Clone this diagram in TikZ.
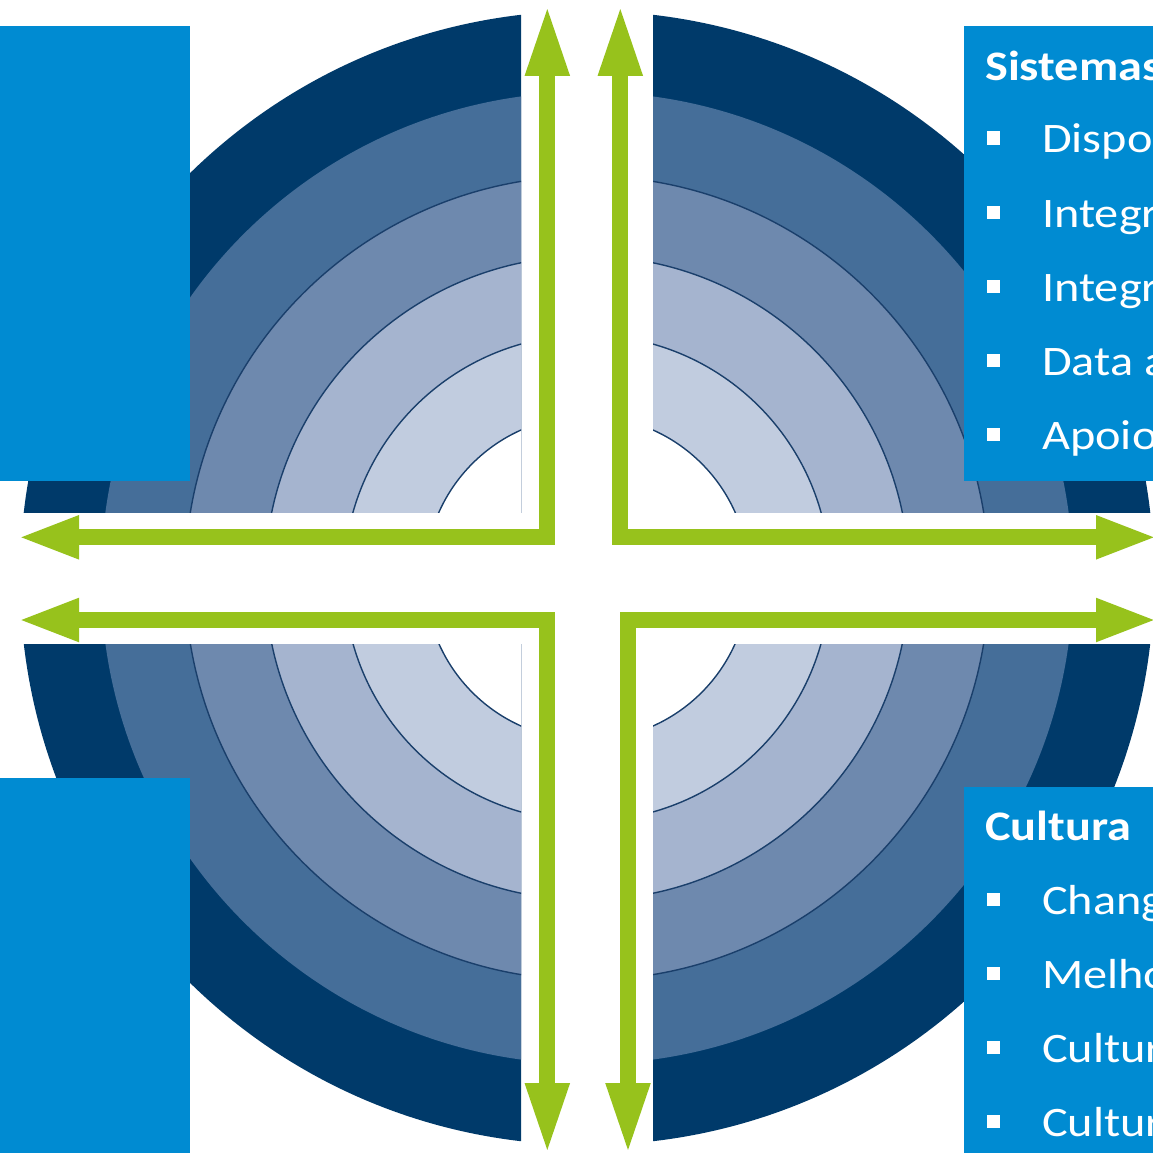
\documentclass[tikz,border=0pt]{standalone}
\usepackage{fontspec}
\setmainfont{Carlito}
\usetikzlibrary{arrows.meta}
\definecolor{ringA}{HTML}{003A6A}
\definecolor{ringB}{HTML}{456E99}
\definecolor{ringC}{HTML}{6E89AE}
\definecolor{ringD}{HTML}{A5B4CF}
\definecolor{ringE}{HTML}{C1CCDF}
\definecolor{ringline}{HTML}{1A3F6B}
\definecolor{arrowgreen}{HTML}{97C21C}
\definecolor{boxblue}{HTML}{008BD2}
\newcommand{\myrings}{%
  \fill[ringA] (587,578) circle[radius=567pt];
  \fill[ringB] (587,578) circle[radius=486pt];
  \fill[ringC] (587,578) circle[radius=402pt];
  \fill[ringD] (587,578) circle[radius=322pt];
  \fill[ringE] (587,578) circle[radius=243pt];
  \fill[white] (587,578) circle[radius=162pt];
  \foreach \r in {402,322,243,162}{\draw[ringline,line width=1.4pt] (587,578) circle[radius=\r pt];}
}
\begin{document}
\begin{tikzpicture}[x=1pt,y=-1pt,
  greenarrow/.style={draw=arrowgreen,line width=16pt,line join=miter},
  hhead/.style={Triangle[length=62pt,width=39pt,line width=0pt]},
  vhead/.style={Triangle[length=72pt,width=40pt,line width=0pt]},
  bluebox/.style={fill=boxblue,draw=none},
  title/.style={anchor=base west,inner sep=0pt,text=white,font=\fontsize{42}{50}\selectfont\bfseries},
  item/.style={anchor=base west,inner sep=0pt,text=white,font=\fontsize{42}{50}\selectfont},
  bullet/.style={fill=white}]
\clip (0,0) rectangle (1153,1153);
\fill[white] (0,0) rectangle (1153,1153);
% quadrants
\begin{scope}\clip (0,0) rectangle (521,512); \myrings \end{scope}
\begin{scope}\clip (653,0) rectangle (1153,512); \myrings \end{scope}
\begin{scope}\clip (0,644) rectangle (521,1153); \myrings \end{scope}
\begin{scope}\clip (653,644) rectangle (1153,1153); \myrings \end{scope}
% arrows
\coordinate (tlL) at (17,537.3); \coordinate (tlC) at (547.3,537.3); \coordinate (tlU) at (547.3,4);
\coordinate (trR) at (1158,537.3); \coordinate (trC) at (620.3,537.3); \coordinate (trU) at (620.3,4);
\coordinate (blL) at (17,620); \coordinate (blC) at (547.3,620); \coordinate (blD) at (547.3,1155);
\coordinate (brR) at (1158,620); \coordinate (brC) at (628,620); \coordinate (brD) at (628,1155);
\draw[greenarrow,{Triangle[length=62pt,width=39pt]}-{Triangle[length=72pt,width=40pt]}] (tlL) -- (tlC) -- (tlU);
\draw[greenarrow,{Triangle[length=62pt,width=39pt]}-{Triangle[length=72pt,width=40pt]}] (trR) -- (trC) -- (trU);
\draw[greenarrow,{Triangle[length=62pt,width=39pt]}-{Triangle[length=72pt,width=40pt]}] (blL) -- (blC) -- (blD);
\draw[greenarrow,{Triangle[length=62pt,width=39pt]}-{Triangle[length=72pt,width=40pt]}] (brR) -- (brC) -- (brD);
% boxes
\fill[bluebox] (0,26) rectangle (190,481);
\fill[bluebox] (0,778) rectangle (190,1153);
\fill[bluebox] (964,26) rectangle (1153,481);
\fill[bluebox] (964,787) rectangle (1153,1153);
% texts top right
\node[title] (sis) at (985,81) {\scalebox{1.15}[1]{Sistemas}};
\foreach \y/\t [count=\i] in {153/Dispo,227.2/Integr,301.4/Integr,375.6/Data a,449.8/Apoio}{
  \fill[bullet] (987,\y-21.5) rectangle (1000,\y-8.5);
  \node[item] (s\i) at (1042,\y) {\scalebox{1.15}[1]{\t}};
}
\node[title] (cul) at (985,840) {\scalebox{1.15}[1]{Cultura}};
\foreach \y/\t [count=\i] in {914.6/Chang,988.4/Melho,1062.2/Cultur,1136/Cultur}{
  \fill[bullet] (987,\y-21.5) rectangle (1000,\y-8.5);
  \node[item] (c\i) at (1042,\y) {\scalebox{1.15}[1]{\t}};
}
\end{tikzpicture}
\end{document}
